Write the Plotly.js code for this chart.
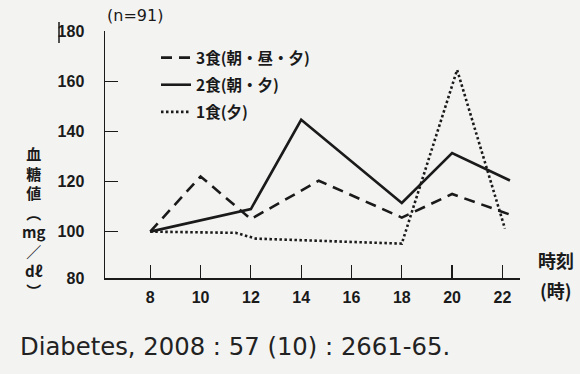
<!DOCTYPE html>
<html><head><meta charset="utf-8">
<script src="https://cdn.plot.ly/plotly-3.0.1.min.js"></script>
<style>html,body{margin:0;padding:0;background:#f3f3f2;}</style>
</head><body><div id="chart" style="width:580px;height:374px;"></div>
<script>
// Data
const hours3 = [8, 10, 12, 14.7, 18, 20, 22.3];
const meal3  = [100, 122, 105, 120.3, 105.6, 115, 106.8];
const hours2 = [8, 12, 14, 18, 20, 22.3];
const meal2  = [100, 109, 144.6, 111.4, 131.3, 120.4];
const hours1 = [8, 11.4, 12.2, 18, 20.2, 22.1];
const meal1  = [100, 99.5, 97.2, 95.2, 164.5, 101.2];
const seriesNames = ['3食(朝・昼・夕)', '2食(朝・夕)', '1食(夕)'];
const xTicks = [8, 10, 12, 14, 16, 18, 20, 22];
const yTickVals = [81.5, 100, 120, 140, 160, 180];
const yTickText = ['80', '100', '120', '140', '160', '180'];

const W = 580, H = 374, L = 105, R = 60, T = 31, B = 96;
const pw = W - L - R, ph = H - T - B;
const px = x => (x - L) / pw;
const py = y => (H - B - y) / ph;
const ink = '#1a1a1a';
const numFont = {family: 'Liberation Sans, Arial, sans-serif', size: 16, color: ink, weight: 'bold'};
const jpFont = {family: 'Noto Sans CJK JP, sans-serif', size: 15.5, color: ink, weight: 'bold'};

const traces = [
  {x: hours3, y: meal3, name: seriesNames[0], legendgroup: 'a', mode: 'lines', line: {color: ink, width: 2.6, dash: '11px,7px'}},
  {x: hours2, y: meal2, name: seriesNames[1], legendgroup: 'b', mode: 'lines', line: {color: ink, width: 2.6}},
  {x: hours1, y: meal1, name: seriesNames[2], legendgroup: 'c', mode: 'lines', line: {color: ink, width: 2.6, dash: '2.5px,2.5px'}}
];

const cc = {xref: 'paper', yref: 'paper', xanchor: 'center', yanchor: 'middle', showarrow: false};
const layout = {
  width: W, height: H,
  margin: {l: L, r: R, t: T, b: B, pad: 0},
  paper_bgcolor: '#f3f3f2', plot_bgcolor: 'rgba(0,0,0,0)',
  showlegend: true,
  legend: {x: px(156), y: py(41), xanchor: 'left', yanchor: 'top', bgcolor: 'rgba(0,0,0,0)', font: jpFont,
           traceorder: 'grouped', tracegroupgap: 4},
  xaxis: {range: [6.2, 22.7], tickvals: xTicks, ticks: 'inside', ticklen: 13, tickwidth: 1.2, tickcolor: ink,
          showline: true, linecolor: ink, linewidth: 1.5, showgrid: false, zeroline: false, tickfont: numFont,
          ticklabelstandoff: 4, fixedrange: true},
  yaxis: {range: [81.5, 180], tickvals: yTickVals, ticktext: yTickText, ticks: 'inside', ticklen: 13, tickwidth: 1.2,
          tickcolor: ink, showline: true, linecolor: ink, linewidth: 1.5, showgrid: false, zeroline: false,
          tickfont: numFont, ticklabelstandoff: 16, fixedrange: true},
  shapes: [
    {type: 'line', xref: 'paper', yref: 'paper', x0: px(59), x1: px(59), y0: py(22), y1: py(43), line: {color: ink, width: 1.5}}
  ],
  annotations: [
    {...cc, x: px(135), y: py(15), text: '(n=91)', font: {family: 'DejaVu Sans, sans-serif', size: 16, color: ink}},
    {...cc, x: px(33), y: py(222), text: '血<br>糖<br>値<br>︵<br>mg<br>／<br>dℓ<br>︶', font: {...jpFont, size: 15}, align: 'center'},
    {...cc, x: px(556), y: py(260), text: '時刻', font: {...jpFont, size: 18}},
    {...cc, x: px(556), y: py(290), text: '(時)', font: {...jpFont, size: 18}},
    {...cc, xanchor: 'left', x: px(18), y: py(346), text: 'Diabetes, 2008 : 57 (10) : 2661-65.',
     font: {family: 'DejaVu Sans, sans-serif', size: 24.3, color: '#222'}}
  ]
};
Plotly.newPlot('chart', traces, layout, {staticPlot: true});
</script></body></html>
